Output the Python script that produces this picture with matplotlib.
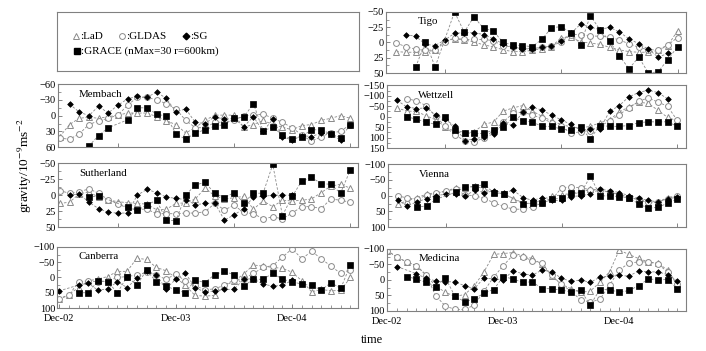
import numpy as np
import matplotlib
matplotlib.use('Agg')
import matplotlib.pyplot as plt

plt.rcParams['font.family'] = ['Liberation Serif', 'DejaVu Serif']
plt.rcParams['mathtext.fontset'] = 'stix'

nan = np.nan
months = np.arange(31)          # Dec-02 ... Jun-05, monthly
month_ticks = [0, 12, 24]
month_labels = ['Dec-02', 'Dec-03', 'Dec-04']

# ---- data (10^-9 m/s^2), one value per month ----
tigo_lad = [nan, 15, 16, 16, 15, 13, -4, -6, -4, -1, 4, 7, 12, 15, 15, 13, 10, 7, -8, -9, -1, 1, 3, 8, 12, 15, 16, 16, 13, 5, -19]
tigo_gldas = [nan, 1, 7, 11, 13, 12, 0, -7, -5, -5, -5, -3, 6, 7, 9, 10, 8, 6, -1, -13, -13, -11, -10, -9, -4, 2, 8, 12, 12, 4, -8]
tigo_sg = [nan, nan, -13, -10, 3, 5, -4, -15, -16, -16, -13, -6, 2, 8, 10, 11, 8, 6, -3, -15, -30, -25, -21, -25, -17, -6, 2, 11, 24, 18, nan]
tigo_grace = [nan, nan, nan, 40, -1, 40, nan, -50, -17, -42, -23, -19, 0, 4, 5, 7, -5, -24, -26, -16, 4, -44, -21, -2, 22, 43, 24, 50, 48, 28, 7]

membach_lad = [40, 17, 5, 3, 5, 2, -1, -5, -5, -5, 2, 10, 17, 33, 23, 9, -1, -1, -1, 22, 17, 9, 17, 22, 27, 19, 17, 9, 5, 0, 5]
membach_gldas = [43, 45, 35, 17, 10, 5, -1, -20, -35, -35, -30, -23, -13, 9, 23, 23, 13, 12, 9, 0, -1, -3, 5, 13, 23, 37, 49, 40, 33, 30, 17]
membach_sg = [nan, -22, -7, 0, -18, -5, -20, -32, -37, -35, -45, -33, -7, -13, 13, 15, 2, 7, 5, 21, 2, 30, 7, 40, 47, 38, 40, 33, 35, 47, nan]
membach_grace = [nan, nan, nan, 58, 38, 23, nan, 8, -15, -15, -3, 1, 35, 45, 33, 27, 20, 17, 5, 3, -23, 29, 22, 37, 45, 40, 27, 27, 35, 42, 18]

wettzell_lad = [nan, -42, -27, -25, -5, 15, 49, 71, 80, 71, 37, 25, -27, -42, -53, -27, -2, 20, 37, 49, 54, 46, 29, 15, -22, -47, -69, -64, -31, 3, 20]
wettzell_gldas = [nan, nan, -86, -76, -53, -2, 46, 88, 114, 122, 100, 66, 25, -17, -22, -8, 7, 29, 46, 80, 71, 66, 46, 20, -10, -42, -73, -90, -70, -50, 17]
wettzell_sg = [nan, -78, -47, -39, -42, -8, 12, 46, 114, 105, 97, 83, 32, 41, -22, -47, -31, -8, 15, 37, 63, 60, 58, -25, -53, -95, -115, -127, -115, -86, nan]
wettzell_grace = [nan, nan, 0, 12, 25, 37, 3, 63, 76, 80, 80, 63, 51, 3, 20, 25, 46, 46, 59, 63, 50, 105, 42, 46, 46, 42, 29, 24, 25, 24, 46]

sutherland_lad = [13, 11, -2, -5, 3, 8, 10, 12, 13, 14, 23, 22, 13, 12, 6, -11, 1, 6, 4, 2, 22, 9, 18, 8, 9, 8, 6, -4, -14, -17, -11]
sutherland_gldas = [-7, -3, -5, -10, -3, 7, 14, 20, 22, 22, 29, 29, 29, 28, 28, 26, 13, 23, 16, 27, 29, 37, 34, 37, 28, 18, 18, 21, 6, 8, 11]
sutherland_sg = [nan, 0, -2, 11, 21, 27, 28, 28, 0, -9, -4, 3, 5, 7, 15, 13, 12, 39, 31, 21, 3, 2, 0, 0, 0, nan, nan, nan, nan, nan, nan]
sutherland_grace = [nan, nan, nan, 3, 1, nan, nan, 19, 24, 15, 8, 39, 40, 0, -16, -20, -3, 4, -4, 12, -3, -3, -48, 32, 2, -22, -28, -18, -17, -3, -39]

vienna_lad = [nan, 26, 17, 6, -5, -10, -14, -25, -25, -31, -21, -11, -6, 9, 23, 26, 12, 1, -2, -8, -10, -21, -17, -11, -5, 6, 12, 24, 20, 6, 1]
vienna_gldas = [nan, 1, 7, 12, -2, -8, -14, -21, -2, 0, 9, 23, 34, 43, 43, 35, 23, 12, -25, -28, -25, -19, -17, -11, -2, 7, 12, 20, 20, 9, 0]
vienna_sg = [nan, 15, 32, 20, 9, 0, -5, -5, 0, -17, -10, -15, -10, -17, 6, 15, 6, 15, 15, 3, 0, -5, -21, -16, -10, 0, 8, 15, 20, 10, 5]
vienna_grace = [nan, nan, nan, 37, 32, 11, nan, -11, -28, -28, -36, -8, -6, nan, 26, 23, 24, 12, 7, -8, -8, -62, 1, 0, 3, 7, 26, 40, 37, 24, 11]

canberra_lad = [70, 56, 33, 11, 5, -3, -20, -20, -63, -59, -33, -22, 0, 26, 59, 61, 59, 28, 12, -11, -41, -37, -33, -30, -17, 11, 47, 39, 44, 42, 0]
canberra_gldas = [70, 59, 14, 11, 14, 11, 0, -3, -8, -17, -8, 6, -11, 11, 26, 41, 37, 26, 8, 4, -13, -33, -39, -67, -94, -61, -86, -61, -37, -13, -26]
canberra_sg = [44, nan, 25, 19, 42, 37, 14, 33, 3, -22, -9, 37, 6, -14, 33, 48, 44, 39, 39, 6, 4, 22, 28, 26, 9, nan, nan, nan, nan, nan, nan]
canberra_grace = [nan, nan, 50, 50, 11, 14, 50, -3, 26, -24, 14, 28, 41, 50, 8, 17, -9, -20, -9, 28, 6, 6, -14, 6, 14, 22, 26, 41, 17, 36, -42]

medicina_lad = [-94, -73, -58, -46, -15, 19, 40, 53, 47, 19, -26, -82, -85, -88, -77, -69, -51, -12, 14, 28, 40, 36, 8, -26, -96, -82, -69, -58, -54, -32, 14]
medicina_gldas = [-94, -73, -58, -46, -17, 51, 84, 95, 95, 81, 36, -9, -46, -80, -75, -62, -54, -15, 14, 36, 64, 72, 62, 17, -32, -54, -58, -58, -51, -26, 14]
medicina_sg = [nan, -43, nan, -20, -5, 3, 6, 6, 19, 28, -6, -3, -1, -29, -20, -15, -32, -26, -6, 5, 0, 8, -9, -12, -15, -12, -29, -26, -26, -17, 2]
medicina_grace = [nan, nan, -11, -3, 8, 23, -7, 53, 70, 62, 42, 31, -11, -3, 8, 6, 28, 28, 33, 38, 33, 81, 31, 31, 40, 34, 19, -3, -1, -1, 28]

# name, series, y range, y ticks, axes rect (fig fraction), column, bottom row?
panels = [
    ('Tigo', (tigo_lad, tigo_gldas, tigo_sg, tigo_grace), 50, [-50, -25, 0, 25, 50],
     [0.547, 0.792, 0.425, 0.174], 1, False),
    ('Membach', (membach_lad, membach_gldas, membach_sg, membach_grace), 60, [-60, -30, 0, 30, 60],
     [0.082, 0.581, 0.425, 0.179], 0, False),
    ('Wettzell', (wettzell_lad, wettzell_gldas, wettzell_sg, wettzell_grace), 150,
     [-150, -100, -50, 0, 50, 100, 150], [0.548, 0.578, 0.4235, 0.179], 1, False),
    ('Sutherland', (sutherland_lad, sutherland_gldas, sutherland_sg, sutherland_grace), 50,
     [-50, -25, 0, 25, 50], [0.082, 0.353, 0.425, 0.182], 0, False),
    ('Vienna', (vienna_lad, vienna_gldas, vienna_sg, vienna_grace), 100, [-100, -50, 0, 50, 100],
     [0.549, 0.353, 0.4225, 0.179], 1, False),
    ('Canberra', (canberra_lad, canberra_gldas, canberra_sg, canberra_grace), 100,
     [-100, -50, 0, 50, 100], [0.081, 0.1225, 0.4264, 0.174], 0, True),
    ('Medicina', (medicina_lad, medicina_gldas, medicina_sg, medicina_grace), 100,
     [-100, -50, 0, 50, 100], [0.548, 0.114, 0.4235, 0.177], 1, True),
]

gray = '#8a8a8a'
line_kw = dict(ls=(0, (3, 2)), lw=0.6, color=gray)
styles = [
    dict(marker='^', ms=4.0, mfc='white', mec=gray, mew=0.7),   # LaD
    dict(marker='o', ms=4.2, mfc='white', mec=gray, mew=0.7),   # GLDAS
    dict(marker='D', ms=2.9, mfc='black', mec='black', mew=0.5),  # SG
    dict(marker='s', ms=4.3, mfc='black', mec='black', mew=0.5),  # GRACE
]

fig = plt.figure(figsize=(7.06, 3.51), dpi=100)

for name, series, yr, yt, rect, col, bottom in panels:
    ax = fig.add_axes(rect)
    for vals, st in zip(series, styles):
        v = np.array(vals, dtype=float)
        ok = ~np.isnan(v)
        ax.plot(months[ok], v[ok], **line_kw, **st)
    ax.set_ylim(yr, -yr)
    ax.set_yticks(yt)
    ax.set_yticks([(a + b) / 2 for a, b in zip(yt[:-1], yt[1:])], minor=True)
    if col == 0:
        ax.set_xlim(-0.2, 30.8)
    else:
        ax.set_xlim(-0.05, 30.9)
    if bottom:
        ax.set_xticks(month_ticks)
        ax.set_xticklabels(month_labels)
        ax.set_xticks(months, minor=True)
    else:
        ax.set_xticks([6, 18, 30])
        ax.set_xticklabels([])
    ax.tick_params(direction='in', which='major', length=3, width=0.6, color='#707070',
                   labelsize=7.5, pad=1.5)
    ax.tick_params(direction='in', which='minor', length=2, width=0.5, color='#707070')
    ax.tick_params(axis='x', pad=4)
    for s in ax.spines.values():
        s.set_color('#808080')
        s.set_linewidth(0.8)
    ax.text(0.07 if col == 0 else 0.105, 0.84, name, transform=ax.transAxes,
            fontsize=7.8, va='center', ha='left')

# legend box
lax = fig.add_axes([0.0807, 0.7977, 0.4278, 0.168])
lax.set_xlim(0, 302)
lax.set_ylim(59, 0)
lax.set_xticks([])
lax.set_yticks([])
for s in lax.spines.values():
    s.set_color('#808080')
    s.set_linewidth(0.8)
lax.plot([19], [24], ls='none', **styles[0])
lax.plot([65], [24], ls='none', **styles[1])
lax.plot([129], [24], ls='none', marker='D', ms=3.4, color='black')
lax.plot([20], [39], ls='none', marker='s', ms=5.0, color='black')
lax.text(23, 24, ':LaD', fontsize=8, va='center')
lax.text(69, 24, ':GLDAS', fontsize=8, va='center')
lax.text(133, 24, ':SG', fontsize=8, va='center')
lax.text(24, 39, ':GRACE (nMax=30 r=600km)', fontsize=8, va='center')

fig.text(0.036, 0.527, r'gravity/10$^{-9}$ms$^{-2}$', rotation=90, fontsize=9.5,
         ha='center', va='center')
fig.text(0.527, 0.031, 'time', fontsize=9, ha='center', va='center')

fig.savefig('out.png', dpi=100)
